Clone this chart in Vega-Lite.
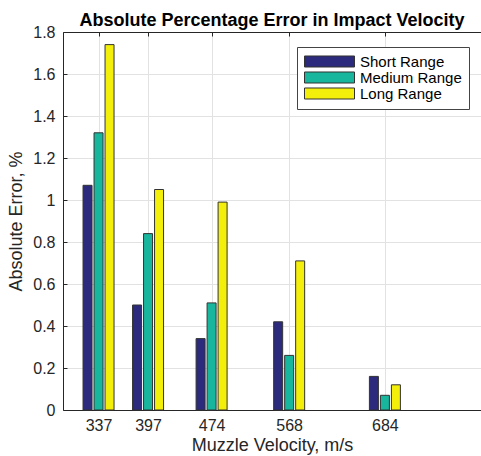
{
  "$schema": "https://vega.github.io/schema/vega-lite/v6.json",
  "autosize": "none",
  "width": 418,
  "height": 378,
  "padding": {"left": 63, "top": 32, "right": 0, "bottom": 46},
  "background": "white",
  "config": {
    "font": "Liberation Sans",
    "view": {"stroke": null},
    "axis": {"domainColor": "#262626", "tickColor": "#262626", "labelColor": "#262626", "titleColor": "#262626", "gridColor": "#e2e2e2", "labelFontSize": 16, "titleFontSize": 18, "titleFontWeight": "normal", "labelFont": "Liberation Sans", "titleFont": "Liberation Sans"}
  },
  "title": {"text": "Absolute Percentage Error in Impact Velocity", "fontSize": 18, "fontWeight": "bold", "font": "Liberation Sans", "color": "#000000", "offset": -20, "baseline": "alphabetic", "anchor": "middle"},
  "data": {"values": [
    {"velocity": 337, "range": "Short Range", "error": 1.07},
    {"velocity": 337, "range": "Medium Range", "error": 1.32},
    {"velocity": 337, "range": "Long Range", "error": 1.74},
    {"velocity": 397, "range": "Short Range", "error": 0.50},
    {"velocity": 397, "range": "Medium Range", "error": 0.84},
    {"velocity": 397, "range": "Long Range", "error": 1.05},
    {"velocity": 474, "range": "Short Range", "error": 0.34},
    {"velocity": 474, "range": "Medium Range", "error": 0.51},
    {"velocity": 474, "range": "Long Range", "error": 0.99},
    {"velocity": 568, "range": "Short Range", "error": 0.42},
    {"velocity": 568, "range": "Medium Range", "error": 0.26},
    {"velocity": 568, "range": "Long Range", "error": 0.71},
    {"velocity": 684, "range": "Short Range", "error": 0.16},
    {"velocity": 684, "range": "Medium Range", "error": 0.07},
    {"velocity": 684, "range": "Long Range", "error": 0.12}
  ]},
  "encoding": {
    "y": {"field": "error", "type": "quantitative", "scale": {"domain": [0, 1.8], "nice": false},
      "axis": {"title": "Absolute Error, %", "values": [0, 0.2, 0.4, 0.6, 0.8, 1, 1.2, 1.4, 1.6, 1.8], "format": ".1~f", "tickSize": -4, "labelPadding": 12, "titlePadding": 7, "grid": true, "domainWidth": 1}},
    "color": {"field": "range", "type": "nominal",
      "scale": {"domain": ["Short Range", "Medium Range", "Long Range"], "range": ["#2c2a7c", "#17b69d", "#f3ee0a"]},
      "legend": {"orient": "none", "legendX": 234, "legendY": 15, "title": null, "fillColor": "white", "strokeColor": "#444444", "padding": 7,
        "symbolType": "M-1,-0.786H6.143V0.786H-1Z", "symbolSize": 196, "symbolStrokeColor": "#333333", "symbolStrokeWidth": 1, "symbolOpacity": 1,
        "labelFontSize": 15, "labelColor": "#000000", "labelOffset": 41, "rowPadding": -2, "labelFont": "Liberation Sans"}}
  },
  "layer": [
    {
      "transform": [{"filter": "datum.range === 'Short Range'"}],
      "mark": {"type": "bar", "width": 9, "xOffset": -11, "stroke": "#333333", "strokeWidth": 1},
      "encoding": {"x": {"field": "velocity", "type": "quantitative", "scale": {"domain": [300, 794.4], "nice": false, "zero": false},
        "axis": {"orient": "bottom", "title": "Muzzle Velocity, m/s", "values": [337, 397, 474, 568, 684], "tickSize": -4, "labelPadding": 11, "titlePadding": 3, "grid": true, "domainWidth": 1}}}
    },
    {
      "transform": [{"filter": "datum.range === 'Medium Range'"}],
      "mark": {"type": "bar", "width": 9, "xOffset": 0, "stroke": "#333333", "strokeWidth": 1},
      "encoding": {"x": {"field": "velocity", "type": "quantitative",
        "axis": {"orient": "top", "title": null, "labels": false, "values": [337, 397, 474, 568, 684], "tickSize": -4, "grid": false, "domainWidth": 1}}}
    },
    {
      "transform": [{"filter": "datum.range === 'Long Range'"}],
      "mark": {"type": "bar", "width": 9, "xOffset": 11, "stroke": "#333333", "strokeWidth": 1},
      "encoding": {"x": {"field": "velocity", "type": "quantitative", "axis": null}}
    }
  ]
}
